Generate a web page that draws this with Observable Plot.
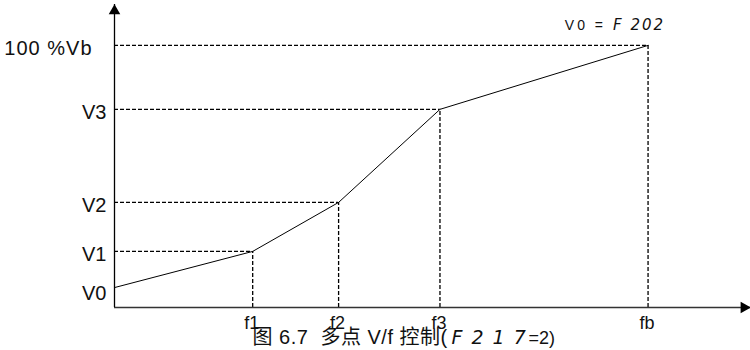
<!DOCTYPE html>
<html>
<head>
<meta charset="utf-8">
<script src="https://cdn.jsdelivr.net/npm/d3@7"></script>
<script src="https://cdn.jsdelivr.net/npm/@observablehq/plot@0.6"></script>
<style>
  html, body { margin: 0; padding: 0; background: #fff; }
  #chart svg { display: block; }
</style>
</head>
<body>
<div id="chart"></div>
<script>
// Breakpoints of the multi-point V/f curve (frequency % of fb, voltage % of Vb)
const freqValues = [0, 25.9, 42.0, 61.0, 100];
const voltValues = [7.6, 21.4, 40.1, 75.6, 100];
const freqLabels = ["", "f1", "f2", "f3", "fb"];
const voltLabels = ["V0", "V1", "V2", "V3", "100 %Vb"];
const axisMax = { x: 119.2, y: 115.6 };
const captionParts = ["图 6.7  多点 V/f 控制(", "F 2 1 7", "=2)"];
const noteParts = ["V0 =", "F 202"];

const pts = freqValues.map((f, i) => ({ f, v: voltValues[i], fl: freqLabels[i], vl: voltLabels[i], i }));
const guides = pts.slice(1);
const font = "Liberation Sans, Arial, 'Noto Sans CJK SC', sans-serif";
const segFont = "DejaVu Sans, sans-serif";

const chart = Plot.plot({
  width: 750,
  height: 350,
  marginLeft: 114,
  marginRight: 0,
  marginTop: 4,
  marginBottom: 43,
  x: { domain: [0, axisMax.x], axis: null },
  y: { domain: [0, axisMax.y], axis: null },
  style: { fontFamily: font, background: "#fff", overflow: "visible" },
  marks: [
    // dashed guides
    Plot.ruleY(guides, { y: "v", x1: 0, x2: "f", stroke: "#000", strokeWidth: 1.3, strokeDasharray: "4,2" }),
    Plot.ruleX(guides, { x: "f", y1: 0, y2: "v", stroke: "#000", strokeWidth: 1.3, strokeDasharray: "4,2" }),
    // axes
    Plot.ruleY([0], { x1: 0, x2: axisMax.x, stroke: "#333", strokeWidth: 1.6 }),
    Plot.ruleX([0], { y1: 0, y2: axisMax.y, stroke: "#000", strokeWidth: 1.3 }),
    Plot.dot([0], { x: 0, y: () => axisMax.y, symbol: "triangle", r: 4.3, fill: "#000", stroke: "none", dy: 6.5 }),
    Plot.dot([0], { x: () => axisMax.x, y: 0, symbol: "triangle", r: 4.3, fill: "#000", stroke: "none", rotate: 90, dx: -6.5 }),
    // V/f curve
    Plot.line(pts, { x: "f", y: "v", stroke: "#000", strokeWidth: 1 }),
    // voltage labels
    Plot.text(pts, { filter: d => d.i === 0, x: 0, y: "v", text: "vl", textAnchor: "end", dx: -8, dy: 6, fontSize: 20, fill: "#111" }),
    Plot.text(pts, { filter: d => d.i > 0 && d.i < 4, x: 0, y: "v", text: "vl", textAnchor: "end", dx: -8, dy: 3, fontSize: 20, fill: "#111" }),
    Plot.text(pts, { filter: d => d.i === 4, x: 0, y: "v", text: "vl", textAnchor: "end", dx: -22, dy: 3, fontSize: 20, fill: "#111" }),
    // frequency labels
    Plot.text(guides, { x: "f", y: 0, text: "fl", dx: -1, dy: 16, fontSize: 18, fill: "#111" }),
    // note at top
    Plot.text([pts[4]], { x: "f", y: "v", text: () => noteParts[0], textAnchor: "end", dx: -42, dy: -20, fontSize: 14, fill: "#111" }),
    Plot.text([pts[4]], { x: "f", y: "v", text: () => noteParts[1], textAnchor: "start", dx: -35, dy: -20, fontSize: 15, fontStyle: "italic", fill: "#111", fontFamily: segFont }),
    // caption
    Plot.text([captionParts[0]], { frameAnchor: "bottom-left", text: d => d, textAnchor: "start", dx: 138, dy: 36, fontSize: 20, fill: "#111" }),
    Plot.text([captionParts[1]], { frameAnchor: "bottom-left", text: d => d, textAnchor: "start", dx: 337, dy: 36, fontSize: 19, fontStyle: "italic", fill: "#111", fontFamily: segFont }),
    Plot.text([captionParts[2]], { frameAnchor: "bottom-left", text: d => d, textAnchor: "start", dx: 414, dy: 36, fontSize: 18, fill: "#111" })
  ]
});
// letter spacing to mimic the wide tracking of the original
d3.select(chart).selectAll("text").each(function () {
  const t = this.textContent;
  if (t === noteParts[0]) this.style.letterSpacing = "3px";
  if (t === noteParts[1]) this.style.letterSpacing = "2px";
  if (t === captionParts[1]) this.style.letterSpacing = "1.5px";
  if (t === captionParts[0]) this.style.letterSpacing = "0.5px";
  if (t === voltLabels[4]) this.style.letterSpacing = "1px";
});
document.getElementById("chart").appendChild(chart);
</script>
</body>
</html>
